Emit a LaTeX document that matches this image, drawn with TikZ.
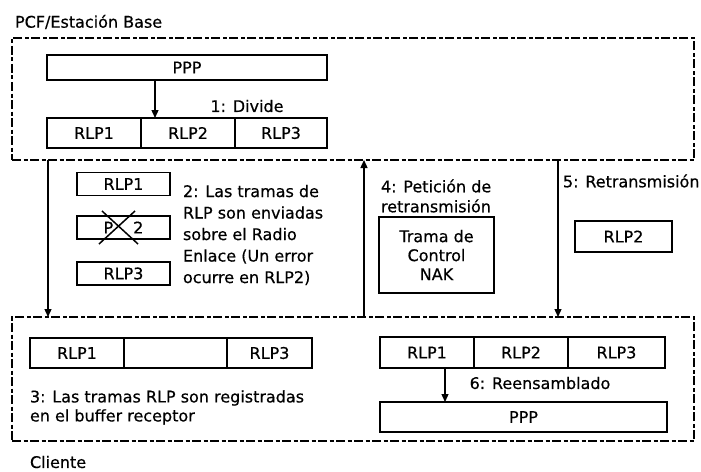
\documentclass[tikz,border=0pt]{standalone}
\usepackage{fontspec}
\setmainfont[FakeBold=0.5]{DejaVu Sans}
\usetikzlibrary{arrows.meta}
\begin{document}
\begin{tikzpicture}[x=1pt,y=-1pt,
  every node/.style={font=\fontsize{16}{20}\selectfont, inner sep=0pt, outer sep=0pt},
  dbox/.style={draw, line width=2.2pt, dash pattern=on 9pt off 2.5pt on 4pt off 2.5pt},
  fbox/.style={draw, line width=1.6pt},
  txt/.style={align=left},
  arr/.style={line width=1.3pt, -{Triangle[length=8pt,width=7pt]}}]
\useasboundingbox (0,0) rectangle (701,471);
% dashed containers
\node[dbox, minimum width=682pt, minimum height=122pt] (top) at (353,99) {};
\node[dbox, minimum width=682pt, minimum height=124pt] (bot) at (353,379) {};
\node[anchor=west] (pcf) at (15,22) {PCF/Estación Base};
\node[anchor=west] (cli) at (30,462) {Cliente};
% top group
\node[fbox, minimum width=280pt, minimum height=25pt] (pppT) at (187,67.5) {PPP};
\node[fbox, minimum width=94pt, minimum height=30pt] (t1) at (94,133) {RLP1};
\node[fbox, minimum width=94pt, minimum height=30pt] (t2) at (188,133) {RLP2};
\node[fbox, minimum width=92pt, minimum height=30pt] (t3) at (281,133) {RLP3};
\node (div) at (247,106) {1: Divide};
\coordinate (xa) at (155,0);
\draw[arr] (xa |- pppT.south) -- (xa |- t2.north);
% transmission
\coordinate (xl) at (48,0);
\draw[arr] (xl |- top.south) -- (xl |- bot.north);
\node[fbox, minimum width=93pt, minimum height=23pt] (s1) at (123.5,184) {RLP1};
\node[fbox, minimum width=93pt, minimum height=23pt] (s2) at (123.5,227.5) {P\hspace{20pt}2};
\draw[line width=1.5pt] (102,211) -- (138,244);
\draw[line width=1.5pt] (135,211) -- (99,244);
\node[fbox, minimum width=93pt, minimum height=23pt] (s3) at (123.5,273.5) {RLP3};
\node[txt, anchor=west, font=\fontsize{16}{21.5}\selectfont] (t2lbl) at (183,235) {2: Las tramas de\\RLP son enviadas\\sobre el Radio\\Enlace (Un error\\ocurre en RLP2)};
% NAK
\coordinate (xu) at (364,0);
\draw[arr] (xu |- bot.north) -- (xu |- top.south);
\node[txt, anchor=west] (pet) at (381,196) {4: Petición de\\retransmisión};
\node[fbox, minimum width=115pt, minimum height=76pt, align=center, font=\fontsize{16}{19}\selectfont] (nak) at (436.5,255) {Trama de\\Control\\NAK};
% retransmission
\coordinate (xr) at (558,0);
\draw[arr] (xr |- top.south) -- (xr |- bot.north);
\node[anchor=west] (ret) at (563,181) {5: Retransmisión};
\node[fbox, minimum width=97pt, minimum height=31pt] (r2) at (623.5,236.5) {RLP2};
% bottom left
\node[fbox, minimum width=94pt, minimum height=30pt] (b1) at (77,353) {RLP1};
\node[fbox, minimum width=103pt, minimum height=30pt] (b2) at (175.5,353) {};
\node[fbox, minimum width=85pt, minimum height=30pt] (b3) at (269.5,353) {RLP3};
\node[txt, anchor=west, font=\fontsize{16}{19}\selectfont] (reg) at (30,407.5) {3: Las tramas RLP son registradas\\en el buffer receptor};
% bottom right
\node[fbox, minimum width=94pt, minimum height=31pt] (c1) at (427,352.5) {RLP1};
\node[fbox, minimum width=94pt, minimum height=31pt] (c2) at (521,352.5) {RLP2};
\node[fbox, minimum width=97pt, minimum height=31pt] (c3) at (616.5,352.5) {RLP3};
\node[fbox, minimum width=287pt, minimum height=30pt] (pppB) at (523.5,417) {PPP};
\node (ree) at (540,383) {6: Reensamblado};
\coordinate (xb) at (445,0);
\draw[arr] (xb |- c1.south) -- (xb |- pppB.north);
\end{tikzpicture}
\end{document}
